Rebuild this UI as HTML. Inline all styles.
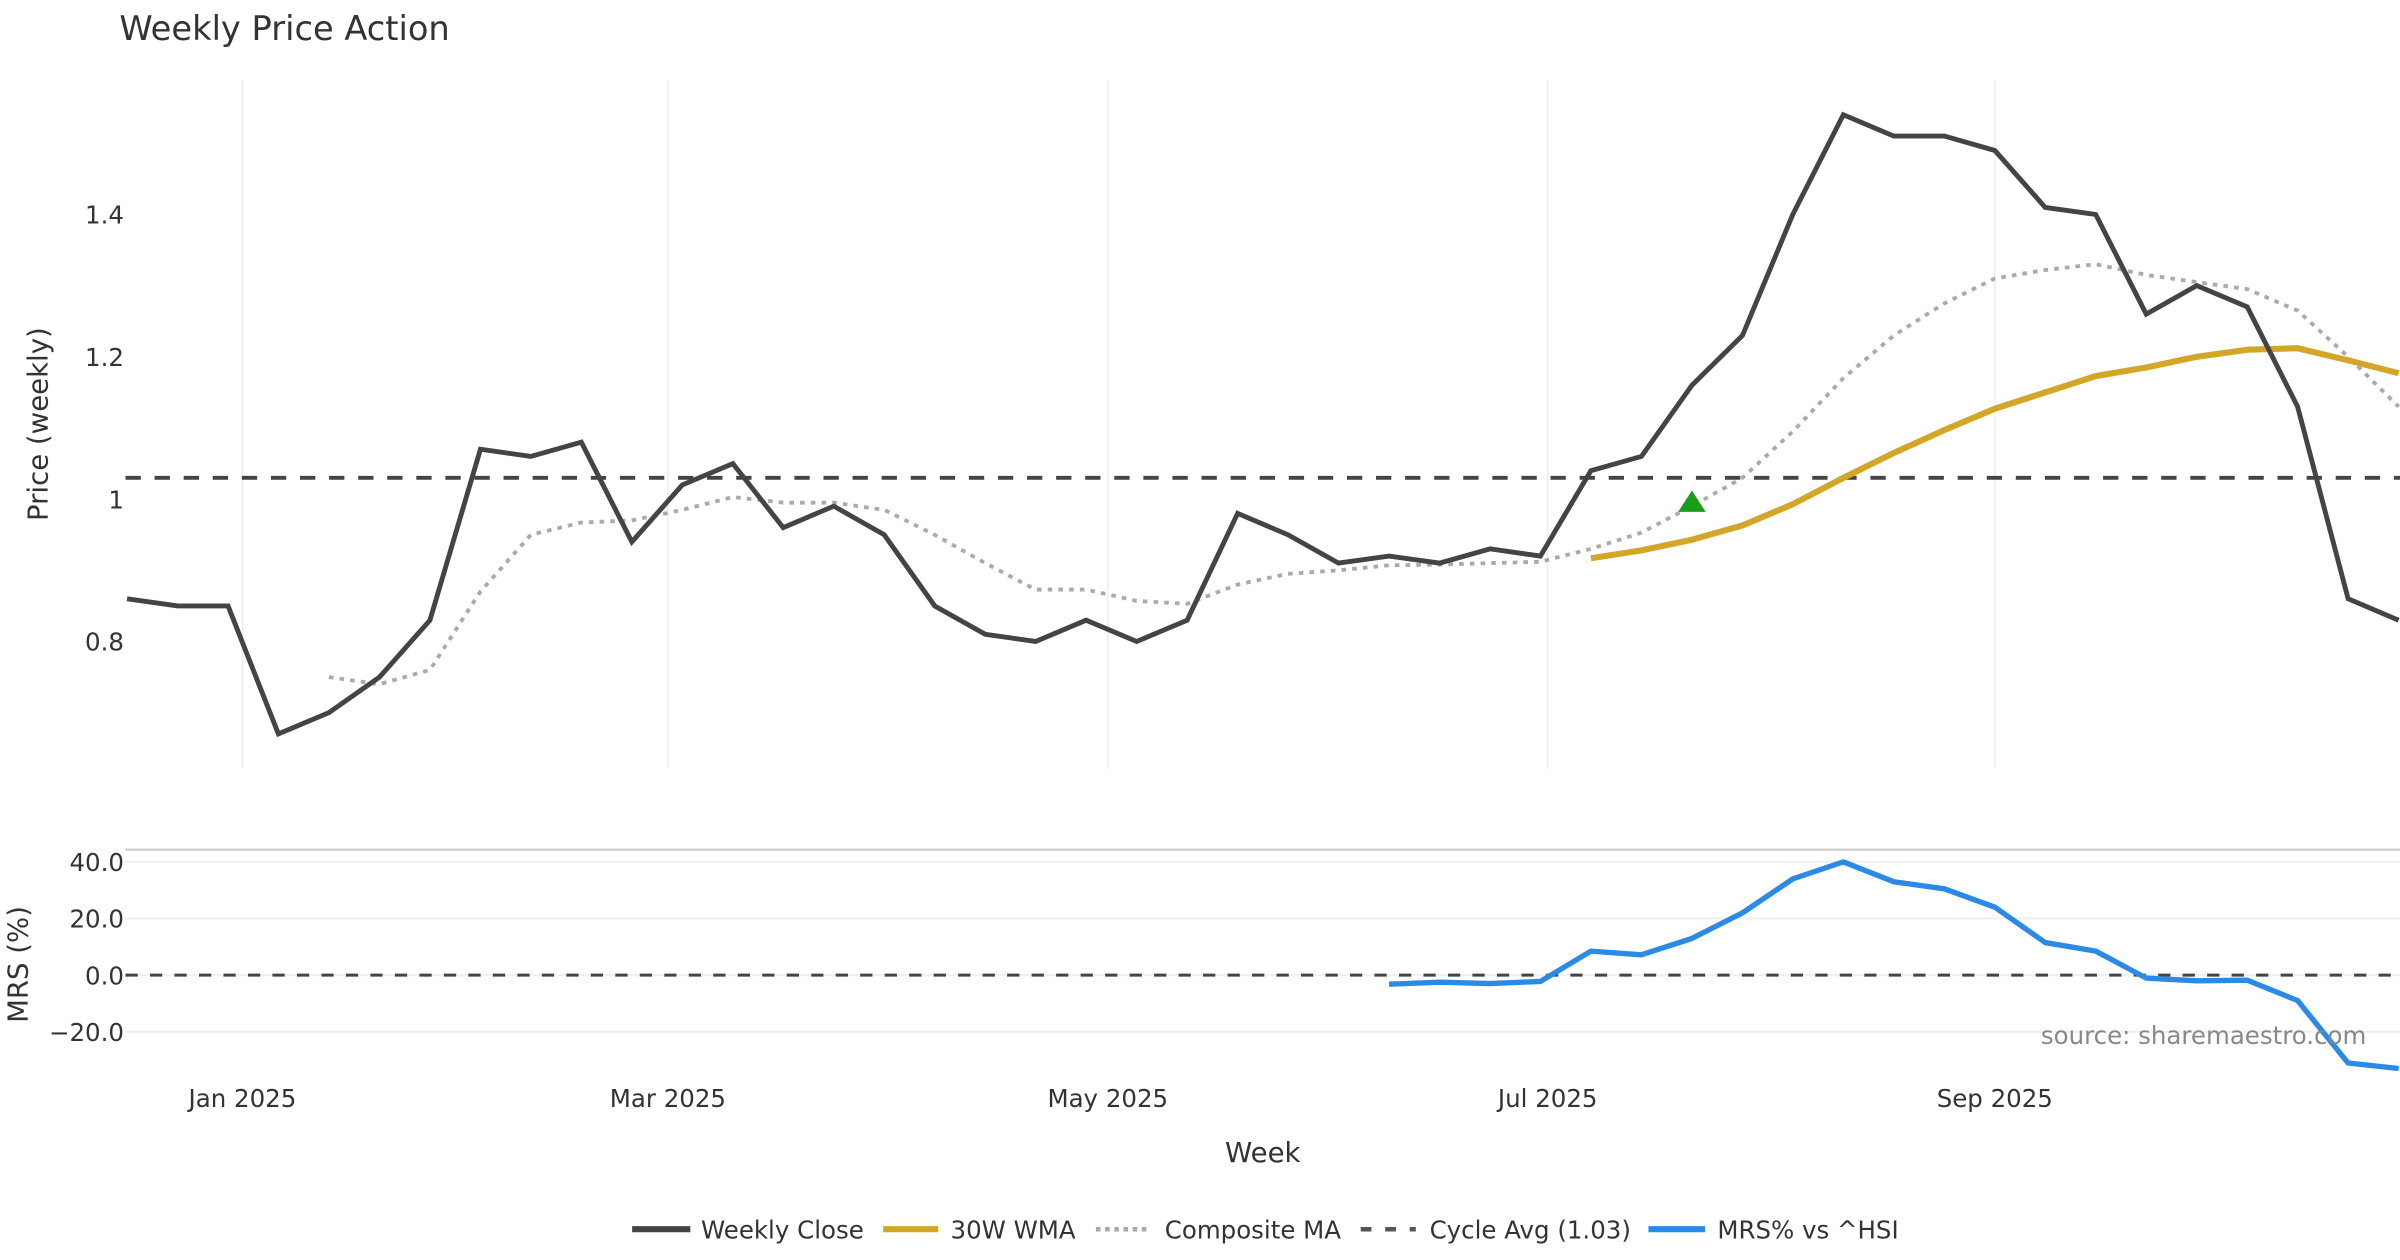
<!DOCTYPE html>
<html><head><meta charset="utf-8"><style>
html,body{margin:0;padding:0;background:#fff;}
svg{display:block;font-family:"DejaVu Sans","Liberation Sans",sans-serif;}
</style></head><body>
<svg id="chart" width="2400" height="1260" viewBox="0 0 1568 823" xmlns="http://www.w3.org/2000/svg">
<text x="78" y="26" font-size="22" fill="#333">Weekly Price Action</text>
<g id="grid"></g>
<g id="marks"></g>
<text transform="translate(31,277) rotate(-90)" text-anchor="middle" font-size="18" fill="#333">Price (weekly)</text>
<text transform="translate(18,630) rotate(-90)" text-anchor="middle" font-size="18" fill="#333">MRS (%)</text>
<text x="825" y="759" text-anchor="middle" font-size="18" fill="#333">Week</text>
<text x="1546" y="682" text-anchor="end" font-size="16" fill="#888">source: sharemaestro.com</text>
<g font-size="16" fill="#333">
 <g><line x1="413" y1="803" x2="451" y2="803" stroke="#444" stroke-width="4"/><text x="458" y="809">Weekly Close</text></g>
 <g><line x1="577" y1="803" x2="613" y2="803" stroke="#d4a628" stroke-width="4"/><text x="621" y="809">30W WMA</text></g>
 <g><line x1="716" y1="803" x2="752" y2="803" stroke="#aaa" stroke-width="3" stroke-dasharray="3,3"/><text x="761" y="809">Composite MA</text></g>
 <g><line x1="889" y1="803" x2="925" y2="803" stroke="#555" stroke-width="3" stroke-dasharray="7,9"/><text x="934" y="809">Cycle Avg (1.03)</text></g>
 <g><line x1="1077" y1="803" x2="1114" y2="803" stroke="#2a8ae6" stroke-width="4"/><text x="1122" y="809">MRS% vs ^HSI</text></g>
</g>
</svg>
<script>
const closes=[0.86,0.85,0.85,0.67,0.70,0.75,0.83,1.07,1.06,1.08,0.94,1.02,1.05,0.96,0.99,0.95,0.85,0.81,0.80,0.83,0.80,0.83,0.98,0.95,0.91,0.92,0.91,0.93,0.92,1.04,1.06,1.16,1.23,1.40,1.54,1.51,1.51,1.49,1.41,1.40,1.26,1.30,1.27,1.13,0.86,0.83];
const composite=[null,null,null,null,0.75,0.74,0.76,0.87,0.95,0.967,0.97,0.985,1.003,0.995,0.995,0.985,0.95,0.91,0.873,0.873,0.857,0.853,0.88,0.895,0.9,0.907,0.908,0.91,0.912,0.93,0.953,0.99,1.03,1.095,1.17,1.23,1.275,1.31,1.322,1.33,1.315,1.305,1.295,1.265,1.2,1.13];
const wma=[null,null,null,null,null,null,null,null,null,null,null,null,null,null,null,null,null,null,null,null,null,null,null,null,null,null,null,null,null,0.917,0.928,0.943,0.963,0.993,1.03,1.065,1.097,1.127,1.15,1.173,1.185,1.2,1.21,1.212,1.195,1.177];
const mrs=[null,null,null,null,null,null,null,null,null,null,null,null,null,null,null,null,null,null,null,null,null,null,null,null,null,-3.2,-2.5,-3,-2.2,8.5,7.2,13,22,34,40,33,30.5,24,11.5,8.5,-1,-2,-1.8,-9,-31,-33];
const cycleAvg=1.03;
const signalIndex=31, signalValue=0.995;
const priceTicks=[0.8,1,1.2,1.4];
const priceTickLabels=["0.8","1","1.2","1.4"];
const mrsTicks=[40,20,0,-20];
const mrsTickLabels=["40.0","20.0","0.0","\u221220.0"];
const monthTicks=["2025-01-01","2025-03-01","2025-05-01","2025-07-01","2025-09-01"];
const monthLabels=["Jan 2025","Mar 2025","May 2025","Jul 2025","Sep 2025"];
const startDate="2024-12-16";

const NS="http://www.w3.org/2000/svg";
const DAY=86400000, t0=Date.parse(startDate);
const xd=ms=>83+(ms-t0)/DAY*(32.98/7);
const xi=i=>xd(t0+i*7*DAY);
const yP=v=>326-(v-1)*465;
const yM=v=>637-v*1.85;
const grid=document.getElementById('grid'), marks=document.getElementById('marks');
function mk(tag,attrs,parent){const e=document.createElementNS(NS,tag);for(const k in attrs)e.setAttribute(k,attrs[k]);parent.appendChild(e);return e;}

monthTicks.forEach((d,k)=>{const x=xd(Date.parse(d));
 const g=mk('line',{x1:x,x2:x,y1:52,y2:502,stroke:'#eee','stroke-width':1},grid);
 
 
 const t=mk('text',{x:x,y:723,'text-anchor':'middle','font-size':16,fill:'#333'},grid);t.textContent=monthLabels[k];
 
 
});
priceTicks.forEach((v,k)=>{const t=mk('text',{x:81,y:yP(v)+6,'text-anchor':'end','font-size':16,fill:'#333'},grid);t.textContent=priceTickLabels[k];
 
 
});
const bl=mk('line',{x1:82,x2:1568,y1:555,y2:555,stroke:'#ccc','stroke-width':1.5},grid);


mrsTicks.forEach((v,k)=>{const y=yM(v);
 const g=mk('line',{x1:82,x2:1568,y1:y,y2:y,stroke:'#eef0f3','stroke-width':1.5},grid);
 
 
 const t=mk('text',{x:81,y:y+6,'text-anchor':'end','font-size':16,fill:'#333'},grid);t.textContent=mrsTickLabels[k];
 
 
});
function path(arr,yf){let d='',pen=false;arr.forEach((v,i)=>{if(v==null){pen=false;return;}d+=(pen?'L':'M')+xi(i).toFixed(1)+','+yf(v).toFixed(1);pen=true;});return d;}
const ca=mk('line',{x1:82,x2:1568,y1:yP(cycleAvg),y2:yP(cycleAvg),stroke:'#444','stroke-width':2.5,'stroke-dasharray':'10,9'},marks);


const z=mk('line',{x1:82,x2:1568,y1:yM(0),y2:yM(0),stroke:'#444','stroke-width':2,'stroke-dasharray':'8,8'},marks);


const cp=mk('path',{d:path(composite,yP),fill:'none',stroke:'#aaa','stroke-width':2.5,'stroke-dasharray':'3,4'},marks);


const wp=mk('path',{d:path(wma,yP),fill:'none',stroke:'#d4a628','stroke-width':4,'stroke-linejoin':'round'},marks);


const cl=mk('path',{d:path(closes,yP),fill:'none',stroke:'#444','stroke-width':3.2,'stroke-linejoin':'miter'},marks);


const sx=xi(signalIndex), sy=yP(signalValue);
const tri=mk('polygon',{points:`${sx-9},${sy+6} ${sx+9},${sy+6} ${sx},${sy-8}`,fill:'#1a9e1a'},marks);


const mp=mk('path',{d:path(mrs,yM),fill:'none',stroke:'#2a8ae6','stroke-width':3.5,'stroke-linejoin':'round'},marks);


</script>
</body></html>
